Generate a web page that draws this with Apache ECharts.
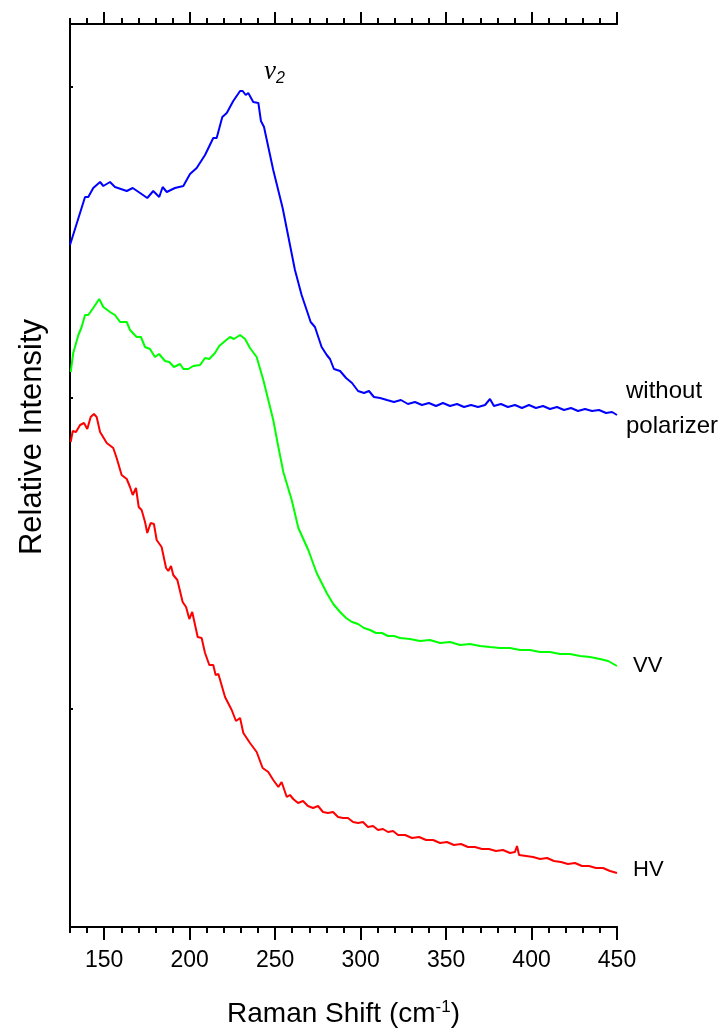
<!DOCTYPE html>
<html>
<head>
<meta charset="utf-8">
<script src="https://cdn.jsdelivr.net/npm/echarts@6/dist/echarts.min.js"></script>
<style>
  html, body { margin: 0; padding: 0; background: #fff; }
  #chart { width: 725px; height: 1031px; }
</style>
</head>
<body>
<div id="chart"></div>
<script>
  // Raman shift (cm-1) and relative intensity (arbitrary units)
  var noPolX = [130, 138.8, 140.7, 143.6, 147.6, 149.5, 153.4, 156.3, 163.2, 166.7, 171, 175.2, 178.7, 182.2, 184.2, 186.6, 191.4, 196.3, 200.2, 204.1, 209, 213.8, 215.8, 219.1, 221.7, 225.5, 229.5, 231, 232.8, 234.3, 237.2, 240.2, 241.7, 243.5, 248.9, 254.4, 261.6, 265.5, 270.8, 273.3, 277.2, 280.2, 282.1, 284.4, 288,
    291.5, 295, 298.5, 302, 304.9, 307.8, 311.4, 315.4, 319.5, 323.6, 327.7, 331.8, 335.9, 340, 344.1, 348.2, 352.3, 356.4, 360.5, 364.6, 368.7, 372.8, 375.7, 378, 382.1, 386.2, 390.3, 394.4, 398.5, 402.6, 406.7, 410.8, 414.9, 419, 423.1, 427.2, 431.3, 435.4, 439.5, 443.6, 447.1, 450];
  var noPolY = [682, 730, 730, 739, 745, 741, 745, 740, 736, 739, 734, 729, 736, 730, 740, 735, 739, 741, 753, 759, 772, 789, 789, 810, 814, 826, 836, 836, 832, 834, 825, 824, 806, 800, 757, 719, 657, 632, 605, 600, 580, 572, 568, 558, 556,
    549, 544, 536, 534, 536, 530, 529, 527, 525, 527, 523, 525, 522, 524, 521, 524, 521, 523, 520, 522, 520, 522, 528, 521, 523, 520, 522, 519, 522, 519, 521, 518, 520, 517, 519, 516, 518, 516, 517, 514, 515, 512];

  var vvX = [130.4, 131.9, 134.9, 136.8, 138.8, 140.7, 143.6, 147.1, 149.5, 153.4, 156.3, 159.3, 163.2, 165.1, 169, 171.5, 173.9, 176.8, 179.7, 182.1, 185.6, 188.1, 190.8, 194.4, 196.3, 199.2, 202.1, 206.1, 209, 211.5, 214.8, 217.3, 220.7, 223.6, 225.9, 229.5, 232.4, 235.3, 239.2, 243.1, 246, 248.9, 251.9, 254.8, 259.7, 263.6, 269.4, 274.3, 280.2, 284, 288,
    291.5, 295, 298.5, 302, 305.5, 309, 312.5, 316, 319.5, 323.1, 328.9, 334.8, 340.6, 346.5, 352.3, 358.2, 364, 369.9, 375.7, 381.6, 387.4, 393.3, 399.1, 405, 410.8, 416.7, 422.5, 428.4, 434.2, 440.1, 444.8, 450];
  var vvY = [555, 574, 592, 600, 612, 612, 619, 628, 620, 615, 612, 605, 605, 597, 590, 590, 580, 578, 570, 573, 566, 565, 560, 563, 558, 558, 561, 562, 569, 568, 574, 581, 586, 590, 588, 592, 588, 579, 570, 547, 527, 507, 480, 455, 427, 399, 377, 354, 334, 323, 315,
    309, 305, 303, 299, 297, 294, 294, 291, 291, 289, 288, 286, 287, 284, 285, 282, 283, 281, 280, 279, 279, 277, 277, 275, 275, 273, 273, 271, 270, 268, 266, 261];

  var hvX = [130.4, 131.6, 133.5, 135.9, 138.2, 140.1, 142.1, 144, 145.6, 147.6, 151.5, 155.3, 157.3, 160.2, 163.2, 165.1, 166.7, 168.6, 170.2, 171.9, 173.9, 175.2, 177.2, 179.1, 180.7, 183.6, 186.2, 187.5, 189.1, 190.4, 192.8, 195.9, 197.9, 199.8, 201.5, 204.7, 207, 209, 211.5, 213.8, 215.2, 216.8, 220.7, 224.6, 227.1, 229.5, 231.4, 235.3, 239.2, 242.7, 246, 248.9, 251.9, 253.8, 256.8, 258.7, 260.6,
    263.4, 266.3, 269.2, 272.2, 275.1, 278, 280.9, 283.9, 286.8, 289.7, 292.6, 295.6, 298.5, 301.4, 304.3, 307.3, 310.2, 313.1, 316, 319, 321.9, 326, 330.1, 334.2, 338.3, 342.4, 346.5, 350.5, 354.6, 358.7, 362.8, 366.9, 371, 375.1, 379.2, 383.3, 387.4, 390.3, 391.5, 392.7, 396.8, 400.9, 405, 409.1, 413.1, 417.2, 421.3, 425.4, 429.5, 433.6, 437.7, 441.8, 445.9, 450];
  var hvY = [485, 496, 495, 502, 504, 498, 510, 513, 510, 495, 484, 479, 469, 452, 448, 440, 432, 439, 420, 417, 405, 394, 404, 403, 387, 380, 359, 356, 361, 352, 347, 325, 320, 308, 315, 290, 289, 274, 262, 262, 252, 253, 230, 217, 206, 209, 194, 184, 175, 159, 155, 147, 140, 145, 130, 132, 128,
    124, 126, 121, 119, 121, 115, 114, 115, 110, 109, 109, 105, 104, 105, 100, 101, 97, 98, 95, 96, 92, 92, 89, 90, 87, 87, 84, 85, 82, 83, 80, 80, 78, 78, 76, 77, 74, 75, 81, 72, 71, 70, 68, 69, 66, 65, 63, 64, 61, 61, 59, 59, 56, 54];

  var majorTicks = [150, 200, 250, 300, 350, 400, 450];
  var minorTicks = [130, 140, 160, 170, 180, 190, 210, 220, 230, 240, 260, 270, 280, 290, 310, 320, 330, 340, 360, 370, 380, 390, 410, 420, 430, 440];
  var yTicks = [218, 529, 840];

  var font = 'Liberation Sans, Arial, sans-serif';

  function zip(xs, ys) {
    var out = [];
    for (var i = 0; i < xs.length; i++) {
      out.push([xs[i], ys[i]]);
    }
    return out;
  }

  function xAxisOf(pos, ticks, len, withLabels) {
    return {
      type: 'value',
      position: pos,
      min: 130,
      max: 450,
      axisLine: { show: true, lineStyle: { color: '#000', width: 2 } },
      axisTick: { show: true, customValues: ticks, length: len, lineStyle: { color: '#000', width: 2 } },
      axisLabel: withLabels ? {
        show: true,
        customValues: majorTicks,
        margin: 22,
        fontSize: 23,
        color: '#000',
        fontFamily: font
      } : { show: false },
      splitLine: { show: false }
    };
  }

  var bottomAxis = xAxisOf('bottom', majorTicks, 13, true);
  bottomAxis.name = '{t|Raman Shift (cm}{s|-1}{t|)}';
  bottomAxis.nameLocation = 'middle';
  bottomAxis.nameGap = 72;
  bottomAxis.nameMoveOverlap = false;
  bottomAxis.nameTextStyle = {
    color: '#000',
    fontFamily: font,
    fontSize: 28,
    rich: {
      t: { fontSize: 28, lineHeight: 31, fontFamily: font, color: '#000' },
      s: { fontSize: 17, lineHeight: 17, verticalAlign: 'top', fontFamily: font, color: '#000' }
    }
  };

  function endLabel(text, dist, dy, size) {
    return {
      show: true,
      formatter: text,
      distance: dist,
      offset: [0, dy],
      fontSize: size,
      lineHeight: 35,
      color: '#000',
      fontFamily: font,
      align: 'left'
    };
  }

  function lineSeries(name, xs, ys, color, label) {
    return {
      name: name,
      type: 'line',
      xAxisIndex: 0,
      yAxisIndex: 0,
      data: zip(xs, ys),
      showSymbol: false,
      symbol: 'none',
      lineStyle: { color: color, width: 2 },
      itemStyle: { color: color },
      endLabel: label,
      animation: false
    };
  }

  var chart = echarts.init(document.getElementById('chart'));
  chart.setOption({
    animation: false,
    backgroundColor: '#fff',
    grid: { left: 70, right: 108, top: 24, bottom: 104, containLabel: false, outerBoundsMode: 'none' },
    xAxis: [
      bottomAxis,
      xAxisOf('bottom', minorTicks, 6, false),
      xAxisOf('top', majorTicks, 12, false),
      xAxisOf('top', minorTicks, 6, false)
    ],
    yAxis: {
      type: 'value',
      min: 0,
      max: 903,
      axisLine: { show: true, lineStyle: { color: '#000', width: 2 } },
      axisTick: { show: true, inside: true, customValues: yTicks, length: 3, lineStyle: { color: '#000', width: 2 } },
      axisLabel: { show: false },
      splitLine: { show: false }
    },
    graphic: [{
      type: 'text',
      x: 32,
      y: 437,
      rotation: Math.PI / 2,
      style: {
        text: 'Relative Intensity',
        fontFamily: font,
        fontSize: 31,
        fill: '#000',
        align: 'center',
        verticalAlign: 'middle'
      }
    }, {
      type: 'text',
      left: 264,
      top: 58,
      style: {
        text: '{n|ν}{s|2}',
        rich: {
          n: { fontFamily: 'Liberation Serif, serif', fontStyle: 'italic', fontSize: 27, fill: '#000', lineHeight: 30 },
          s: { fontFamily: font, fontStyle: 'italic', fontSize: 16, fill: '#000', verticalAlign: 'bottom', lineHeight: 18 }
        }
      }
    }],
    series: [
      lineSeries('without polarizer', noPolX, noPolY, '#0000ff', endLabel('without\npolarizer', 9, -6, 24)),
      lineSeries('VV', vvX, vvY, '#00ff00', endLabel('VV', 16, 0, 22)),
      lineSeries('HV', hvX, hvY, '#ff0000', endLabel('HV', 16, -3, 22))
    ]
  });
</script>
</body>
</html>
